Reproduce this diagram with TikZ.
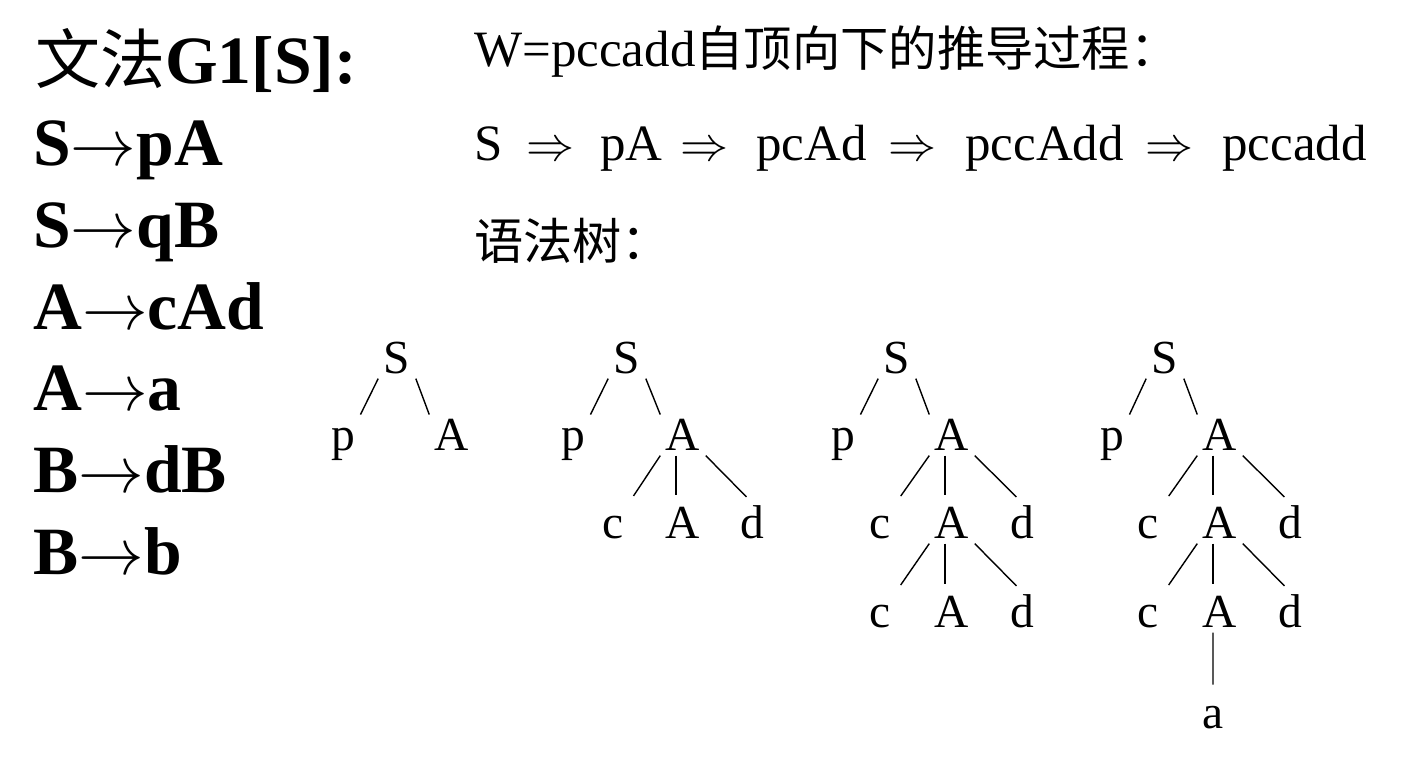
\documentclass[tikz,border=0pt]{standalone}
\usepackage{graphicx}
\usepackage{fontspec}
\setmainfont{Liberation Serif}
\newfontfamily\cjk{Noto Sans CJK SC}

\tikzset{
  rule/.style={anchor=base west, inner sep=0pt, font=\fontsize{38.5}{40}\selectfont\bfseries},
  line/.style={anchor=base west, inner sep=0pt, font=\fontsize{29}{30}\selectfont},
  sym/.style={anchor=base, inner sep=3pt, text height=17pt, text depth=0pt, font=\fontsize{27}{28}\selectfont},
  branch/.style={line width=0.8pt},
  kid/.style={line width=0.8pt, shorten >=4.5pt}
}
\newcommand{\prodarrow}{\scalebox{1.5}{$\rightarrow$}}
\newcommand{\yields}{\scalebox{1.1}{$\Rightarrow$}}

\begin{document}
\begin{tikzpicture}[x=0.02cm, y=-0.02cm]
\useasboundingbox (0,0) rectangle (1406,779);
% grammar
\node[rule] (title) at (35,83) {{\fontsize{37}{40}\mdseries\cjk 文法}G1[S]:};
\node[rule] (r1) at (33,165) {S\prodarrow pA};
\node[rule] (r2) at (33,247) {S\prodarrow qB};
\node[rule] (r3) at (33,329) {A\prodarrow cAd};
\node[rule] (r4) at (33,410) {A\prodarrow a};
\node[rule] (r5) at (33,492) {B\prodarrow dB};
\node[rule] (r6) at (33,574) {B\prodarrow b};
% derivation
\node[line] (w) at (474,66) {W=pccadd{\fontsize{27.5}{30}\cjk 自顶向下的推导过程：}};
\node[line] (d0) at (474,160) {S};
\node[line] (i1) at (526,160) {\yields};
\node[line] (d1) at (600,160) {pA};
\node[line] (i2) at (680,160) {\yields};
\node[line] (d2) at (756,160) {pcAd};
\node[line] (i3) at (888,160) {\yields};
\node[line] (d3) at (965,160) {pccAdd};
\node[line] (i4) at (1145,160) {\yields};
\node[line] (d4) at (1222,160) {pccadd};
\node[line] (tree) at (474,259) {{\fontsize{28}{30}\cjk 语法树：}};

% tree 1
\node[sym] (aS) at (397,373) {S};
\node[sym] (ap) at (343,450) {p};
\node[sym] (aA) at (452,450) {A};
\draw[branch] (aS.south west) -- (ap.north east);
\draw[branch] (aS.south east) -- (aA.north west);

% tree 2
\node[sym] (bS) at (627,373) {S};
\node[sym] (bp) at (573,450) {p};
\node[sym] (bA) at (683,450) {A};
\node[sym] (bc) at (613,538) {c};
\node[sym] (bA2) at (683,538) {A};
\node[sym] (bd) at (752,538) {d};
\draw[branch] (bS.south west) -- (bp.north east);
\draw[branch] (bS.south east) -- (bA.north west);
\draw[kid] (bA.south west) -- (bc.north east);
\draw[kid] ([xshift=-4pt]bA.south) -- ([xshift=-4pt]bA2.north);
\draw[kid] (bA.south east) -- (bd.north);

% tree 3
\node[sym] (cS) at (897,373) {S};
\node[sym] (cp) at (843,450) {p};
\node[sym] (cA) at (952,450) {A};
\node[sym] (cc) at (880,538) {c};
\node[sym] (cA2) at (952,538) {A};
\node[sym] (cd) at (1022,538) {d};
\node[sym] (cc3) at (880,627) {c};
\node[sym] (cA3) at (952,627) {A};
\node[sym] (cd3) at (1022,627) {d};
\draw[branch] (cS.south west) -- (cp.north east);
\draw[branch] (cS.south east) -- (cA.north west);
\draw[kid] (cA.south west) -- (cc.north east);
\draw[kid] ([xshift=-4pt]cA.south) -- ([xshift=-4pt]cA2.north);
\draw[kid] (cA.south east) -- (cd.north);
\draw[kid] (cA2.south west) -- (cc3.north east);
\draw[kid] ([xshift=-4pt]cA2.south) -- ([xshift=-4pt]cA3.north);
\draw[kid] (cA2.south east) -- (cd3.north);

% tree 4
\node[sym] (dS) at (1165,373) {S};
\node[sym] (dp) at (1112,450) {p};
\node[sym] (dA) at (1220,450) {A};
\node[sym] (dc) at (1148,538) {c};
\node[sym] (dA2) at (1220,538) {A};
\node[sym] (dd) at (1290,538) {d};
\node[sym] (dc3) at (1148,627) {c};
\node[sym] (dA3) at (1220,627) {A};
\node[sym] (dd3) at (1290,627) {d};
\node[sym] (da) at (1213,728) {a};
\draw[branch] (dS.south west) -- (dp.north east);
\draw[branch] (dS.south east) -- (dA.north west);
\draw[kid] (dA.south west) -- (dc.north east);
\draw[kid] ([xshift=-4pt]dA.south) -- ([xshift=-4pt]dA2.north);
\draw[kid] (dA.south east) -- (dd.north);
\draw[kid] (dA2.south west) -- (dc3.north east);
\draw[kid] ([xshift=-4pt]dA2.south) -- ([xshift=-4pt]dA3.north);
\draw[kid] (dA2.south east) -- (dd3.north);
\draw[kid] ([xshift=-4pt]dA3.south) -- (da.north);
\end{tikzpicture}
\end{document}
